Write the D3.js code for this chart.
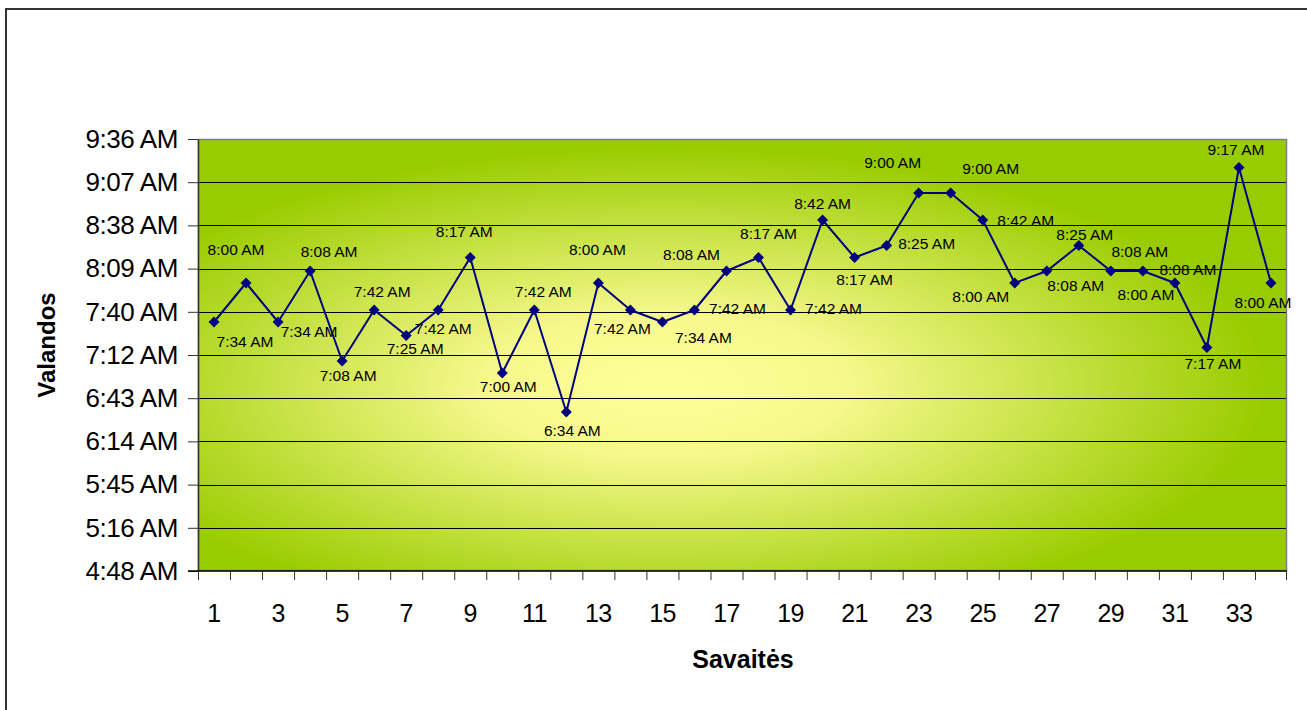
<!DOCTYPE html>
<html>
<head>
<meta charset="utf-8">
<script src="https://cdn.jsdelivr.net/npm/d3@7"></script>
<style>
  html, body { margin: 0; padding: 0; background: #fff; }
  svg { display: block; font-family: "Liberation Sans", Arial, sans-serif; }
</style>
</head>
<body>
<svg id="chart"></svg>
<script>
// Weekly times (Savaitės / Valandos)

const weeks = d3.range(1, 35);
const times = [
  "7:34", "8:00", "7:34", "8:08", "7:08", "7:42", "7:25", "7:42", "8:17", "7:00",
  "7:42", "6:34", "8:00", "7:42", "7:34", "7:42", "8:08", "8:17", "7:42", "8:42",
  "8:17", "8:25", "9:00", "9:00", "8:42", "8:00", "8:08", "8:25", "8:08", "8:08",
  "8:00", "7:17", "9:17", "8:00"
];
// y ticks in minutes after midnight (Excel steps of 0.02 day)
const yTicks = [288, 316.8, 345.6, 374.4, 403.2, 432, 460.8, 489.6, 518.4, 547.2, 576];
const yTickLabels = ["4:48 AM", "5:16 AM", "5:45 AM", "6:14 AM", "6:43 AM", "7:12 AM",
  "7:40 AM", "8:09 AM", "8:38 AM", "9:07 AM", "9:36 AM"];
const xTickLabels = [1, 3, 5, 7, 9, 11, 13, 15, 17, 19, 21, 23, 25, 27, 29, 31, 33];

// where each data label sits relative to its marker
const labelOffset = [
  [31, 19], [-10, -34], [31, 9], [19, -20], [6, 14], [8, -19], [9, 13], [5, 18], [-6, -26], [6, 13],
  [9, -19], [6, 18], [-1, -34], [-8, 18], [41, 15], [43, -2], [-35, -17], [10, -24], [43, -2], [0, -17],
  [10, 22], [40, -2], [-26, -31], [40, -25], [43, 0], [-34, 13], [29, 14], [6, -11], [29, -20], [45, -2],
  [-29, 11], [6, 16], [-3, -18], [-8, 19]
];

(function () {
  const W = 1307, H = 710;
  const M = { top: 139, right: 20, bottom: 139, left: 198 };
  const innerW = 1287 - M.left;
  const innerH = 571 - M.top;

  const NAVY = "#000080";

  const toMin = s => { const [h, m] = s.split(":"); return +h * 60 + +m; };
  const data = weeks.map((w, i) => ({ week: w, t: toMin(times[i]), label: times[i] + " AM", off: labelOffset[i] }));

  const svg = d3.select("#chart").attr("width", W).attr("height", H);

  // outer chart border (runs off the right/bottom edge)
  svg.append("rect")
    .attr("x", 6).attr("y", 9).attr("width", 1400).attr("height", 800)
    .attr("fill", "#fff").attr("stroke", "#333").attr("stroke-width", 2);

  const defs = svg.append("defs");
  const grad = defs.append("radialGradient").attr("id", "bg")
    .attr("cx", 0.43).attr("cy", 0.57).attr("r", 0.55)
    .attr("fx", 0.43).attr("fy", 0.57);
  grad.append("stop").attr("offset", "0%").attr("stop-color", "#ffff99");
  grad.append("stop").attr("offset", "30%").attr("stop-color", "#f6f88c");
  grad.append("stop").attr("offset", "100%").attr("stop-color", "#99cc00");

  const g = svg.append("g").attr("transform", `translate(${M.left},${M.top})`);

  const x = d3.scaleBand().domain(weeks).range([0, innerW]).paddingInner(0).paddingOuter(0);
  const cx = d => x(d) + x.bandwidth() / 2;
  const y = d3.scaleLinear().domain([288, 576]).range([innerH, 0]);

  g.append("rect")
    .attr("width", innerW).attr("height", innerH)
    .attr("fill", "url(#bg)");

  // gridlines
  g.append("g").selectAll("line")
    .data(yTicks.slice(1, -1))
    .join("line")
    .attr("x1", 0).attr("x2", innerW)
    .attr("y1", d => Math.round(y(d)) + 0.5).attr("y2", d => Math.round(y(d)) + 0.5)
    .attr("stroke", "#000").attr("stroke-width", 1);

  // plot border
  g.append("rect")
    .attr("x", 0.5).attr("y", 0.5)
    .attr("width", innerW - 1).attr("height", innerH - 1)
    .attr("fill", "none").attr("stroke", "#808080").attr("stroke-width", 1.5);

  // Y axis
  const yAxis = g.append("g")
    .call(d3.axisLeft(y).tickValues(yTicks)
      .tickFormat((d, i) => yTickLabels[i])
      .tickSize(10).tickPadding(10).tickSizeOuter(0));
  yAxis.select(".domain").attr("stroke", "#333").attr("stroke-width", 1.5);
  yAxis.selectAll(".tick line").attr("stroke", "#333");
  yAxis.selectAll("text")
    .attr("font-size", 26).attr("fill", "#000")
    .attr("letter-spacing", -0.4)
    .attr("font-family", "'Liberation Sans', Arial, sans-serif");

  // X axis: boundary ticks
  const xb = g.append("g").attr("transform", `translate(0,${innerH})`);
  xb.append("line")
    .attr("x1", -10).attr("x2", innerW)
    .attr("stroke", "#000").attr("stroke-width", 1.5);
  xb.selectAll("line.tk")
    .data(weeks.concat([null]))
    .join("line").attr("class", "tk")
    .attr("x1", d => d === null ? innerW - 0.5 : x(d) + 0.5)
    .attr("x2", d => d === null ? innerW - 0.5 : x(d) + 0.5)
    .attr("y1", 0).attr("y2", 9)
    .attr("stroke", "#333");

  const xAxis = g.append("g").attr("transform", `translate(0,${innerH})`)
    .call(d3.axisBottom(x).tickValues(xTickLabels).tickSize(0).tickPadding(33));
  xAxis.select(".domain").remove();
  xAxis.selectAll("text")
    .attr("font-size", 25).attr("fill", "#000")
    .attr("letter-spacing", -0.6)
    .attr("font-family", "'Liberation Sans', Arial, sans-serif");

  // series line
  const line = d3.line().x(d => cx(d.week)).y(d => y(d.t));
  g.append("path")
    .datum(data)
    .attr("fill", "none")
    .attr("stroke", NAVY)
    .attr("stroke-width", 2)
    .attr("stroke-linejoin", "round")
    .attr("d", line);

  // diamond markers
  g.append("g").selectAll("path")
    .data(data)
    .join("path")
    .attr("transform", d => `translate(${cx(d.week)},${y(d.t)}) rotate(45)`)
    .attr("d", d3.symbol(d3.symbolSquare, 60))
    .attr("fill", NAVY);

  // data labels
  g.append("g").selectAll("text")
    .data(data)
    .join("text")
    .attr("x", d => cx(d.week) + d.off[0])
    .attr("y", d => y(d.t) + d.off[1])
    .attr("dy", "0.36em")
    .attr("text-anchor", "middle")
    .attr("font-size", 15.5)
    .attr("fill", "#000")
    .text(d => d.label);

  // axis titles
  svg.append("text")
    .attr("x", 743).attr("y", 668)
    .attr("text-anchor", "middle")
    .attr("font-size", 25).attr("font-weight", "bold")
    .text("Savaitės");

  svg.append("text")
    .attr("transform", "translate(55,345) rotate(-90)")
    .attr("text-anchor", "middle")
    .attr("font-size", 24).attr("font-weight", "bold")
    .text("Valandos");
})();
</script>
</body>
</html>
